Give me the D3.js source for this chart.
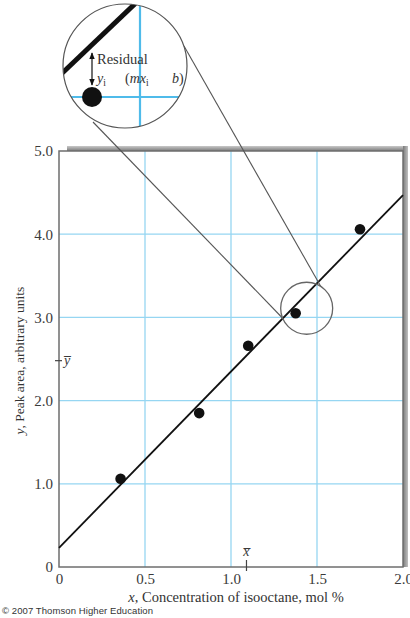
<!DOCTYPE html>
<html>
<head>
<meta charset="utf-8">
<script src="https://cdn.jsdelivr.net/npm/d3@7"></script>
<style>
  body { margin: 0; background: #fff; }
  svg { display: block; }
</style>
</head>
<body>
<div id="chart"></div>
<script>
// data
const concentration = [0.358, 0.815, 1.10, 1.376, 1.75];
const peakArea = [1.06, 1.85, 2.66, 3.05, 4.06];
const fitLine = { intercept: 0.23, slope: 2.12 };
const means = { x: 1.09, y: 2.48 };
const zoomCenter = [1.44, 3.11];

const xTicks = [0, 0.5, 1.0, 1.5, 2.0];
const xTickLabels = ["0", "0.5", "1.0", "1.5", "2.0"];
const yTicks = [0, 1, 2, 3, 4, 5];
const yTickLabels = ["0", "1.0", "2.0", "3.0", "4.0", "5.0"];
const xGrid = [0.5, 1.0, 1.5];
const yGrid = [1, 2, 3, 4];

const W = 410, H = 618;
const margin = { top: 151, right: 6, bottom: 51, left: 59 };
const serif = "'Liberation Serif', 'DejaVu Serif', serif";

const svg = d3.select("#chart").append("svg")
    .attr("width", W)
    .attr("height", H);

const x = d3.scaleLinear().domain([0, 2]).range([margin.left, W - margin.right - 1]);
const y = d3.scaleLinear().domain([0, 5]).range([H - margin.bottom, margin.top]);

// shadow along top and right of frame
const defs = svg.append("defs");
const gTop = defs.append("linearGradient").attr("id", "shTop")
    .attr("x1", 0).attr("y1", 0).attr("x2", 0).attr("y2", 1);
gTop.append("stop").attr("offset", "0%").attr("stop-color", "#c8c8c8");
gTop.append("stop").attr("offset", "100%").attr("stop-color", "#7a7a7a");
const gRight = defs.append("linearGradient").attr("id", "shRight")
    .attr("x1", 0).attr("y1", 0).attr("x2", 1).attr("y2", 0);
gRight.append("stop").attr("offset", "0%").attr("stop-color", "#7a7a7a");
gRight.append("stop").attr("offset", "100%").attr("stop-color", "#c0c0c0");

svg.append("rect")
    .attr("x", 67).attr("y", 146)
    .attr("width", x(2) - 67 + 5).attr("height", 5)
    .attr("fill", "url(#shTop)");
svg.append("rect")
    .attr("x", x(2)).attr("y", 146)
    .attr("width", 5).attr("height", y(0) - 146)
    .attr("fill", "url(#shRight)");

// plot background
svg.append("rect")
    .attr("x", x(0)).attr("y", y(5))
    .attr("width", x(2) - x(0)).attr("height", y(0) - y(5))
    .attr("fill", "#fff");

// grid
svg.append("g").selectAll("line")
    .data(xGrid).enter().append("line")
    .attr("x1", d => x(d)).attr("x2", d => x(d))
    .attr("y1", y(0)).attr("y2", y(5))
    .attr("stroke", "#96d6f2").attr("stroke-width", 1.3);
svg.append("g").selectAll("line")
    .data(yGrid).enter().append("line")
    .attr("x1", x(0)).attr("x2", x(2))
    .attr("y1", d => y(d)).attr("y2", d => y(d))
    .attr("stroke", "#96d6f2").attr("stroke-width", 1.3);

// frame
svg.append("rect")
    .attr("x", x(0)).attr("y", y(5))
    .attr("width", x(2) - x(0)).attr("height", y(0) - y(5))
    .attr("fill", "none")
    .attr("stroke", "#6e6e6e").attr("stroke-width", 1.5);

// axes (labels only)
const xAxis = svg.append("g")
    .attr("transform", "translate(0," + y(0) + ")")
    .call(d3.axisBottom(x).tickValues(xTicks).tickSize(0).tickPadding(6)
        .tickFormat((d, i) => xTickLabels[i]));
xAxis.select(".domain").remove();
xAxis.selectAll("text")
    .attr("font-family", serif).attr("font-size", 15).attr("fill", "#3a3a3a");

const yAxis = svg.append("g")
    .attr("transform", "translate(" + x(0) + ",0)")
    .call(d3.axisLeft(y).tickValues(yTicks).tickSize(0).tickPadding(6)
        .tickFormat((d, i) => yTickLabels[i]));
yAxis.select(".domain").remove();
yAxis.selectAll("text")
    .attr("font-family", serif).attr("font-size", 15).attr("fill", "#3a3a3a");

// mean markers
svg.append("line")
    .attr("x1", x(0) - 4).attr("x2", x(0) + 3)
    .attr("y1", y(means.y)).attr("y2", y(means.y))
    .attr("stroke", "#444").attr("stroke-width", 1.2);
svg.append("text")
    .attr("x", x(0) + 5).attr("y", y(means.y) + 4)
    .attr("font-family", serif).attr("font-size", 14).attr("font-style", "italic")
    .attr("fill", "#3a3a3a")
    .text("y\u0305");
svg.append("line")
    .attr("x1", x(means.x)).attr("x2", x(means.x))
    .attr("y1", y(0) - 7).attr("y2", y(0) + 4)
    .attr("stroke", "#444").attr("stroke-width", 1.2);
svg.append("text")
    .attr("x", x(means.x)).attr("y", y(0) - 11)
    .attr("text-anchor", "middle")
    .attr("font-family", serif).attr("font-size", 14).attr("font-style", "italic")
    .attr("fill", "#3a3a3a")
    .text("x\u0305");

// regression line
const fx = d => fitLine.intercept + fitLine.slope * d;
svg.append("line")
    .attr("x1", x(0)).attr("y1", y(fx(0)))
    .attr("x2", x(2)).attr("y2", y(fx(2)))
    .attr("stroke", "#111").attr("stroke-width", 1.8);

// points
svg.append("g").selectAll("circle")
    .data(concentration).enter().append("circle")
    .attr("cx", d => x(d))
    .attr("cy", (d, i) => y(peakArea[i]))
    .attr("r", 5.3)
    .attr("fill", "#111");

// magnifier
const zc = [x(zoomCenter[0]), y(zoomCenter[1])];
const big = { cx: 125, cy: 66, r: 62 };

svg.append("line")
    .attr("x1", 93).attr("y1", 122).attr("x2", zc[0] - 24).attr("y2", zc[1] + 10)
    .attr("stroke", "#555").attr("stroke-width", 1.1);
svg.append("line")
    .attr("x1", 184).attr("y1", 46).attr("x2", zc[0] + 14).attr("y2", zc[1] - 22)
    .attr("stroke", "#555").attr("stroke-width", 1.1);
svg.append("circle")
    .attr("cx", zc[0]).attr("cy", zc[1]).attr("r", 26)
    .attr("fill", "none").attr("stroke", "#666").attr("stroke-width", 1.3);

defs.append("clipPath").attr("id", "lens")
    .append("circle").attr("cx", big.cx).attr("cy", big.cy).attr("r", big.r);

svg.append("circle")
    .attr("cx", big.cx).attr("cy", big.cy).attr("r", big.r)
    .attr("fill", "#fff");

const lens = svg.append("g").attr("clip-path", "url(#lens)");
lens.append("line")
    .attr("x1", 140).attr("x2", 140).attr("y1", 0).attr("y2", 140)
    .attr("stroke", "#4fbbea").attr("stroke-width", 2.2);
lens.append("line")
    .attr("x1", 55).attr("x2", 200).attr("y1", 97).attr("y2", 97)
    .attr("stroke", "#4fbbea").attr("stroke-width", 2.2);
lens.append("line")
    .attr("x1", 55).attr("y1", 80).attr("x2", 140).attr("y2", -1)
    .attr("stroke", "#111").attr("stroke-width", 5);
lens.append("circle")
    .attr("cx", 92).attr("cy", 97).attr("r", 10)
    .attr("fill", "#111");

// residual arrow
defs.append("marker")
    .attr("id", "ah").attr("viewBox", "0 0 10 10")
    .attr("refX", 9).attr("refY", 5)
    .attr("markerWidth", 6).attr("markerHeight", 6)
    .attr("orient", "auto-start-reverse")
    .append("path").attr("d", "M0,1L10,5L0,9Z").attr("fill", "#111");
svg.append("line")
    .attr("x1", 92).attr("y1", 53).attr("x2", 92).attr("y2", 85)
    .attr("stroke", "#111").attr("stroke-width", 1.2)
    .attr("marker-start", "url(#ah)").attr("marker-end", "url(#ah)");

svg.append("text")
    .attr("x", 97).attr("y", 64)
    .attr("font-family", serif).attr("font-size", 14.5).attr("fill", "#333")
    .text("Residual");
const lensText = svg.append("text")
    .attr("y", 83)
    .attr("font-family", serif).attr("font-size", 14).attr("fill", "#333");
lensText.append("tspan").attr("x", 97).attr("font-style", "italic").text("y");
lensText.append("tspan").attr("font-size", 9.5).attr("dy", 3).text("i");
lensText.append("tspan").attr("x", 125).attr("dy", -3).text("(");
lensText.append("tspan").attr("font-style", "italic").text("mx");
lensText.append("tspan").attr("font-size", 9.5).attr("dy", 3).text("i");
lensText.append("tspan").attr("x", 172).attr("dy", -3).attr("font-style", "italic").text("b");
lensText.append("tspan").text(")");

svg.append("circle")
    .attr("cx", big.cx).attr("cy", big.cy).attr("r", big.r)
    .attr("fill", "none").attr("stroke", "#555").attr("stroke-width", 1.2);

// axis titles
const xTitle = svg.append("text")
    .attr("x", 236).attr("y", 602)
    .attr("text-anchor", "middle")
    .attr("font-family", serif).attr("font-size", 14.5).attr("fill", "#333");
xTitle.append("tspan").attr("font-style", "italic").text("x");
xTitle.append("tspan").text(", Concentration of isooctane, mol %");

const yTitle = svg.append("text")
    .attr("transform", "translate(24," + y(2.48) + ") rotate(-90)")
    .attr("text-anchor", "middle")
    .attr("font-family", serif).attr("font-size", 13.5).attr("fill", "#333");
yTitle.append("tspan").attr("font-style", "italic").text("y");
yTitle.append("tspan").text(", Peak area, arbitrary units");

svg.append("text")
    .attr("x", 2).attr("y", 614)
    .attr("font-family", "'Liberation Sans', Arial, sans-serif")
    .attr("font-size", 9.5).attr("fill", "#333")
    .attr("textLength", 151)
    .text("\u00a9 2007 Thomson Higher Education");
</script>
</body>
</html>
